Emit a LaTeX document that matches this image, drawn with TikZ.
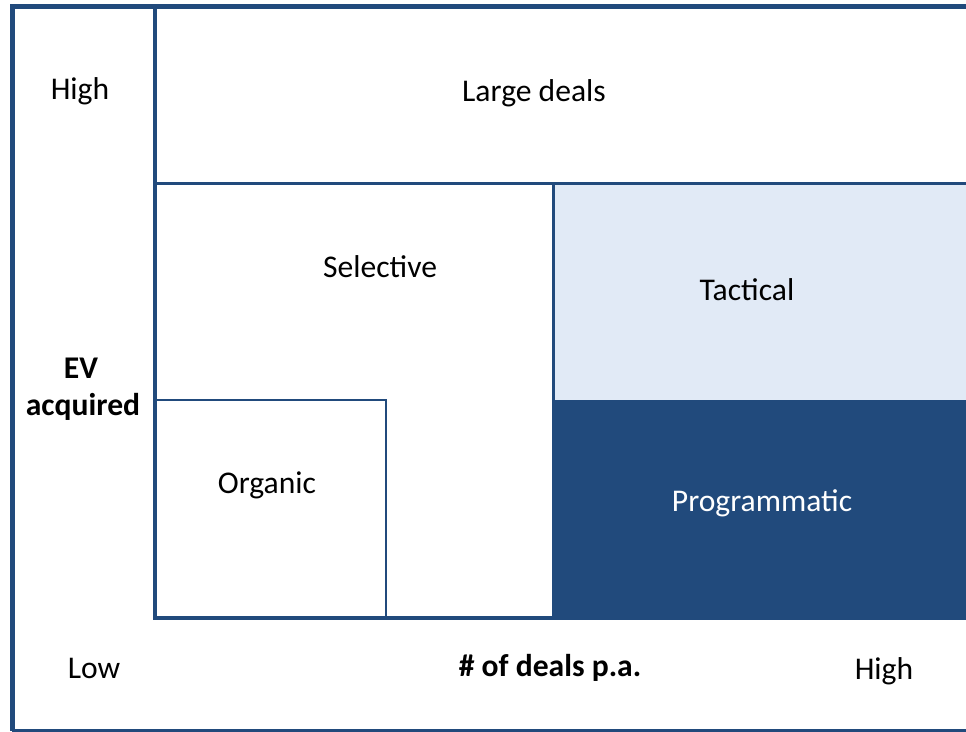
\documentclass[tikz,border=0pt]{standalone}
\usepackage{fontspec}
\setmainfont{Carlito}
\usepackage{xcolor}
\usetikzlibrary{positioning, calc}

\definecolor{dealblue}{RGB}{33,74,124}
\definecolor{dealpale}{RGB}{225,234,246}

\tikzset{
  lbl/.style={anchor=base, inner sep=0pt, font=\fontsize{31.6}{37}\selectfont},
  boldlbl/.style={lbl, font=\fontsize{31.6}{37}\selectfont\bfseries},
  frameline/.style={dealblue, line width=5pt},
  axisline/.style={dealblue, line width=4pt},
  cellline/.style={dealblue, line width=3pt},
  thinline/.style={dealblue, line width=2.5pt}
}

\begin{document}
\begin{tikzpicture}[x=1pt, y=-1pt]
  \useasboundingbox (0,0) rectangle (966,731);

  % shaded cells
  \fill[dealpale] (553,183) rectangle (966,400);
  \fill[dealblue] (552,400) rectangle (966,618);

  % frame and axes
  \draw[frameline] (12,731) -- (12,6) -- (966,6);
  \draw[frameline] (12,731) -- (966,731);
  \draw[axisline] (155,6) -- (155,618) -- (966,618);

  % cell borders
  \draw[cellline] (155,183) -- (966,183);
  \draw[cellline] (553,183) -- (553,618);
  \draw[thinline] (155,400) -- (386,400) -- (386,618);

  % labels
  \node[lbl] (evhigh) at (80,99) {High};
  \node[boldlbl] (evtop) at (81,378) {EV};
  \node[boldlbl] (evbot) at (83,415) {acquired};
  \node[lbl] (nlow) at (94,678) {Low};
  \node[boldlbl] (naxis) at (550,676) {\# of deals p.a.};
  \node[lbl] (nhigh) at (884,679) {High};

  \node[lbl] (large) at (534,101) {Large deals};
  \node[lbl] (selective) at (380,277) {Selective};
  \node[lbl] (tactical) at (747,300) {Tactical};
  \node[lbl] (organic) at (267,493) {Organic};
  \node[lbl, white] (programmatic) at (762,511) {Programmatic};
\end{tikzpicture}
\end{document}
